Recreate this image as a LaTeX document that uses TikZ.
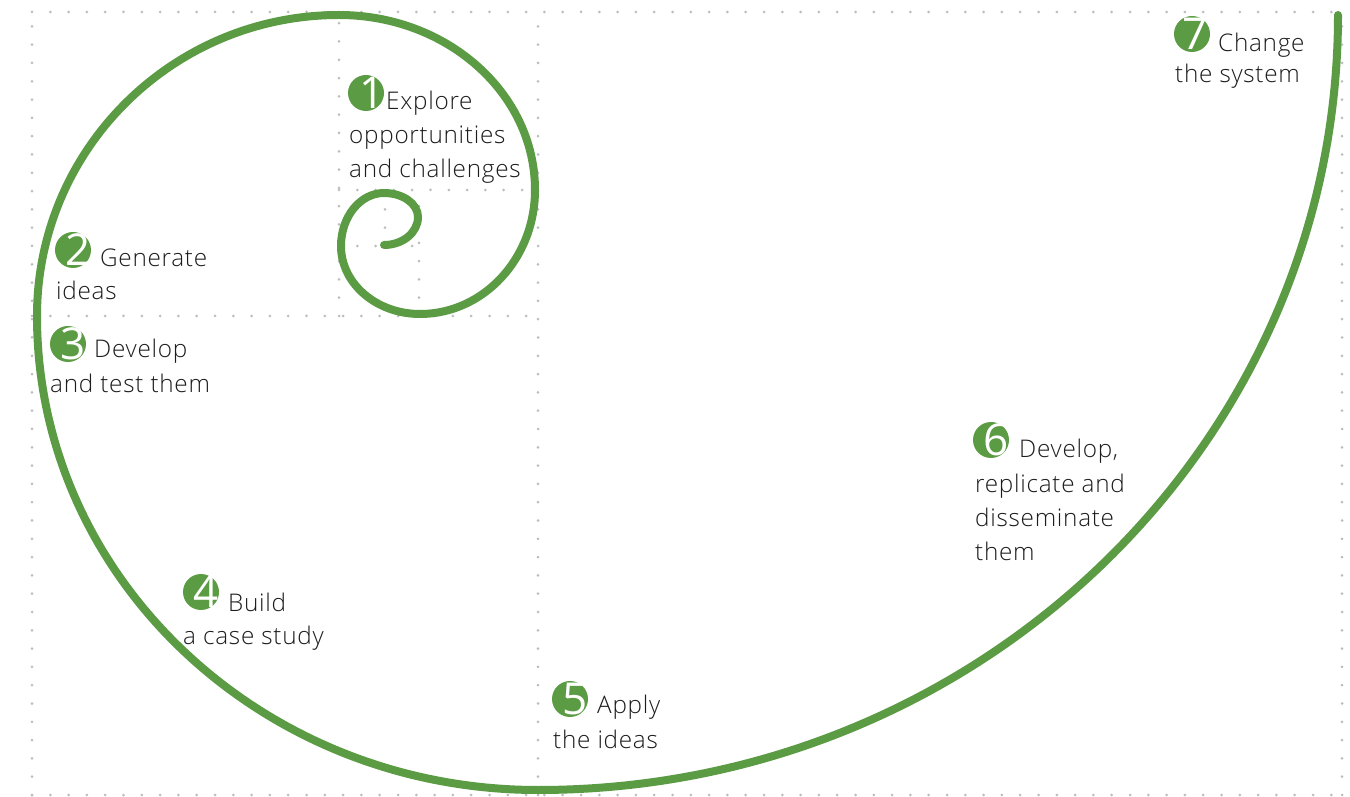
\documentclass[tikz,border=0pt]{standalone}
\usepackage{fontspec}
\IfFontExistsTF{Open Sans Light}{\setmainfont{Open Sans Light}[LetterSpace=3]}{\setmainfont{Open Sans}}
\newfontfamily\digitfont{Open Sans}
\definecolor{spiralgreen}{RGB}{91,155,67}
\definecolor{dotgray}{RGB}{190,190,190}
\definecolor{txtgray}{RGB}{28,28,28}
\begin{document}
\begin{tikzpicture}[x=1pt,y=1pt,
  gridline/.style={dotgray, line width=3pt, line cap=round, dash pattern=on 0pt off 18.3pt},
  spiral/.style={spiralgreen, line width=8pt, line cap=round},
  badge/.style={circle, fill=spiralgreen, minimum size=36pt, inner sep=0pt},
  digit/.style={text=white, font=\digitfont\fontsize{44}{44}\selectfont, inner sep=0pt},
  steptext/.style={anchor=base west, inner sep=0pt, text=txtgray, font=\fontsize{24.3}{34}\selectfont}]
\useasboundingbox (0,0) rectangle (1350,796);
% dotted golden-rectangle grid
\draw[gridline] (32,784) -- (1342,784);
\draw[gridline] (32,1) -- (1342,1);
\draw[gridline] (32,1) -- (32,784);
\draw[gridline] (1342,1) -- (1342,784);
\draw[gridline] (538,1) -- (538,784);
\draw[gridline] (32,480) -- (538,480);
\draw[gridline] (339,480) -- (339,784);
\draw[gridline] (339,606) -- (538,606);
\draw[gridline] (419,480) -- (419,606);
\draw[gridline] (339,550) -- (419,550);
\draw[gridline] (385,550) -- (385,606);
% spiral
\draw[spiral] (1338,781)
  arc[start angle=0, end angle=-90, x radius=800, y radius=775]
  arc[start angle=-90, end angle=-180, x radius=501, y radius=474]
  arc[start angle=180, end angle=90, x radius=302, y radius=301]
  arc[start angle=90, end angle=0, x radius=196, y radius=175]
  arc[start angle=0, end angle=-90, x radius=115, y radius=124]
  arc[start angle=-90, end angle=-180, x radius=79, y radius=68]
  arc[start angle=180, end angle=90, x radius=43, y radius=53]
  arc[start angle=90, end angle=0, x radius=34, y radius=24]
  arc[start angle=0, end angle=-90, x radius=34, y radius=28];
% badges
\node[badge] (b1) at (366,703) {};
\node[digit] (d1) at ([xshift=6pt]b1.center) {1};
\node[badge] (b2) at (73,546) {};
\node[digit] (d2) at ([xshift=5pt]b2.center) {2};
\node[badge] (b3) at (68,452) {};
\node[digit] (d3) at ([xshift=5pt]b3.center) {3};
\node[badge] (b4) at (201,204) {};
\node[digit] (d4) at ([xshift=5pt]b4.center) {4};
\node[badge] (b5) at (570,97) {};
\node[digit] (d5) at ([xshift=5pt]b5.center) {5};
\node[badge] (b6) at (991,356) {};
\node[digit] (d6) at ([xshift=5pt]b6.center) {6};
\node[badge] (b7) at (1192,762) {};
\node[digit] (d7) at ([xshift=3pt]b7.center) {7};
% texts
\node[steptext] (t1a) at (386,686) {Explore};
\node[steptext] (t1b) at (349,652) {opportunities};
\node[steptext] (t1c) at (349,618) {and challenges};
\node[steptext] (t2a) at (100,529) {Generate};
\node[steptext] (t2b) at (56,496) {ideas};
\node[steptext] (t3a) at (94,438) {Develop};
\node[steptext] (t3b) at (50,403) {and test them};
\node[steptext] (t4a) at (228,185) {Build};
\node[steptext] (t4b) at (183,151) {a case study};
\node[steptext] (t5a) at (597,83) {Apply};
\node[steptext] (t5b) at (553,48) {the ideas};
\node[steptext] (t6a) at (1019,338) {Develop,};
\node[steptext] (t6b) at (975,303) {replicate and};
\node[steptext] (t6c) at (975,269) {disseminate};
\node[steptext] (t6d) at (975,235) {them};
\node[steptext] (t7a) at (1218,744) {Change};
\node[steptext] (t7b) at (1175,713) {the system};
\end{tikzpicture}
\end{document}
